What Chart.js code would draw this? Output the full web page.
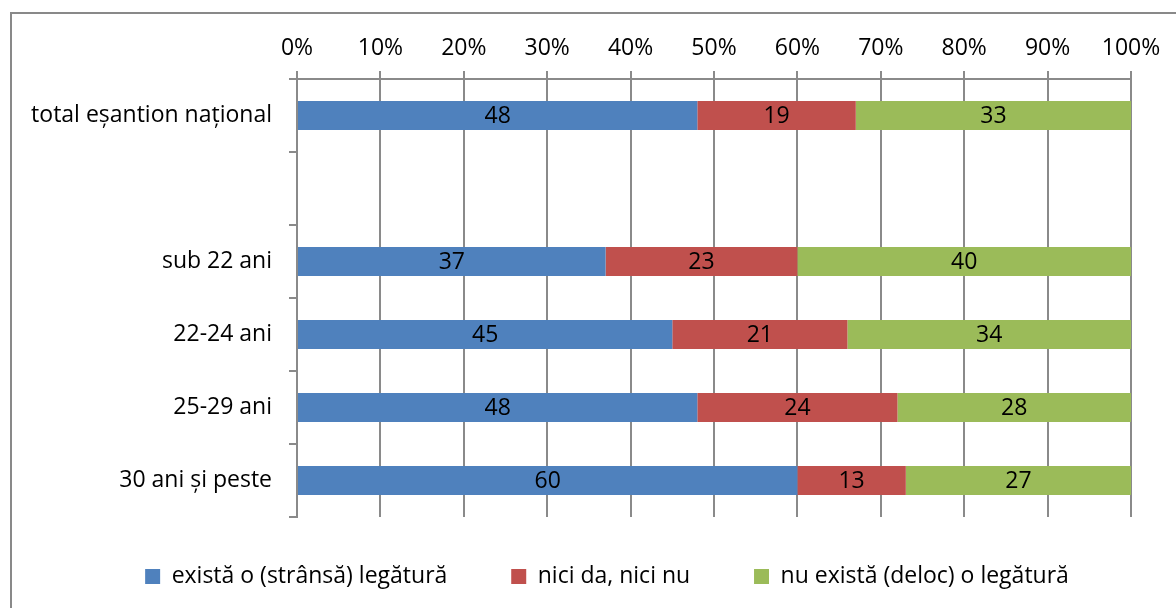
<!DOCTYPE html>
<html>
<head>
<meta charset="utf-8">
<script src="https://cdn.jsdelivr.net/npm/chart.js@4"></script>
<style>
  html, body { margin: 0; padding: 0; background: #fff; }
  #wrap { position: relative; width: 1176px; height: 608px; overflow: hidden; }
  #frame {
    position: absolute; left: 10px; top: 12px; width: 1300px; height: 700px;
    border-top: 2px solid #898989; border-left: 2px solid #898989;
  }
  canvas { position: absolute; left: 0; top: 0; }
</style>
</head>
<body>
<div id="wrap">
  <div id="frame"></div>
  <!-- canvas is a bit wider than the window so the legend sits where it does in the original -->
  <canvas id="chart" width="1188" height="608"></canvas>
</div>
<script>
const categories = ["total eșantion național", "", "sub 22 ani", "22-24 ani", "25-29 ani", "30 ani și peste"];
const seriesNames = ["există o (strânsă) legătură", "nici da, nici nu", "nu există (deloc) o legătură"];
const strongLink = [48, null, 37, 45, 48, 60];
const neutral = [19, null, 23, 21, 24, 13];
const noLink = [33, null, 40, 34, 28, 27];
const colors = ["#4F81BD", "#C0504D", "#9BBB59"];

const FONT = "'Open Sans', sans-serif";
const FSIZE = 23;
const gridColor = "#8a8a8a";
const PAD_LEFT = 26;

// draws the value in the middle of each bar segment
const barValues = {
  id: "barValues",
  afterDatasetsDraw(chart) {
    const ctx = chart.ctx;
    ctx.save();
    ctx.font = FSIZE + "px " + FONT;
    ctx.fillStyle = "#000";
    ctx.textAlign = "center";
    ctx.textBaseline = "middle";
    chart.data.datasets.forEach((ds, i) => {
      chart.getDatasetMeta(i).data.forEach((bar, j) => {
        const v = ds.data[j];
        if (v == null) return;
        const p = bar.getProps(["x", "y", "base"], true);
        ctx.fillText(String(v), (p.x + p.base) / 2, p.y + 1);
      });
    });
    ctx.restore();
  }
};

// empty spacer axes, only used to place the plot area
const spacer = (pos, size) => ({
  position: pos,
  type: "linear",
  display: true,
  grid: { display: false },
  border: { display: false },
  ticks: { display: false },
  afterFit: (s) => {
    if (pos === "left" || pos === "right") s.width = size;
    else s.height = size;
  },
});

new Chart(document.getElementById("chart"), {
  type: "bar",
  data: {
    labels: categories,
    datasets: [
      { label: seriesNames[0], data: strongLink, backgroundColor: colors[0] },
      { label: seriesNames[1], data: neutral, backgroundColor: colors[1] },
      { label: seriesNames[2], data: noLink, backgroundColor: colors[2] },
    ],
  },
  options: {
    indexAxis: "y",
    responsive: false,
    animation: false,
    layout: { padding: { left: PAD_LEFT, right: 0, top: 0, bottom: 10 } },
    datasets: { bar: { categoryPercentage: 1, barPercentage: 0.4 } },
    scales: {
      x: {
        position: "top",
        stacked: true,
        min: 0,
        max: 100,
        ticks: {
          stepSize: 10,
          color: "#000",
          font: { family: FONT, size: FSIZE },
          padding: 9,
          callback: (v) => v + "%",
        },
        grid: { color: gridColor, lineWidth: 2, tickLength: 8 },
        border: { color: gridColor, width: 2 },
        afterFit: (s) => { s.height = 79; },
      },
      y: {
        stacked: true,
        ticks: {
          color: "#000",
          font: { family: FONT, size: FSIZE },
          padding: 17,
        },
        grid: { color: gridColor, lineWidth: 2, tickLength: 8, drawOnChartArea: false, offset: true },
        border: { color: gridColor, width: 2 },
        afterFit: (s) => { s.width = 297 - PAD_LEFT; },
      },
      gapBottom: spacer("bottom", 8),
      gapRight: spacer("right", 45 + 12),
    },
    plugins: {
      legend: {
        position: "bottom",
        labels: {
          boxWidth: 15,
          boxHeight: 15,
          padding: 40,
          color: "#000",
          font: { family: FONT, size: FSIZE },
          generateLabels: (chart) => {
            const items = Chart.defaults.plugins.legend.labels.generateLabels(chart);
            // wider gaps between legend entries
            items.forEach((it, i) => {
              if (i < items.length - 1) it.text += "\u00a0\u00a0\u00a0\u00a0";
            });
            return items;
          },
        },
      },
      tooltip: { enabled: false },
    },
  },
  plugins: [barValues],
});
</script>
</body>
</html>
